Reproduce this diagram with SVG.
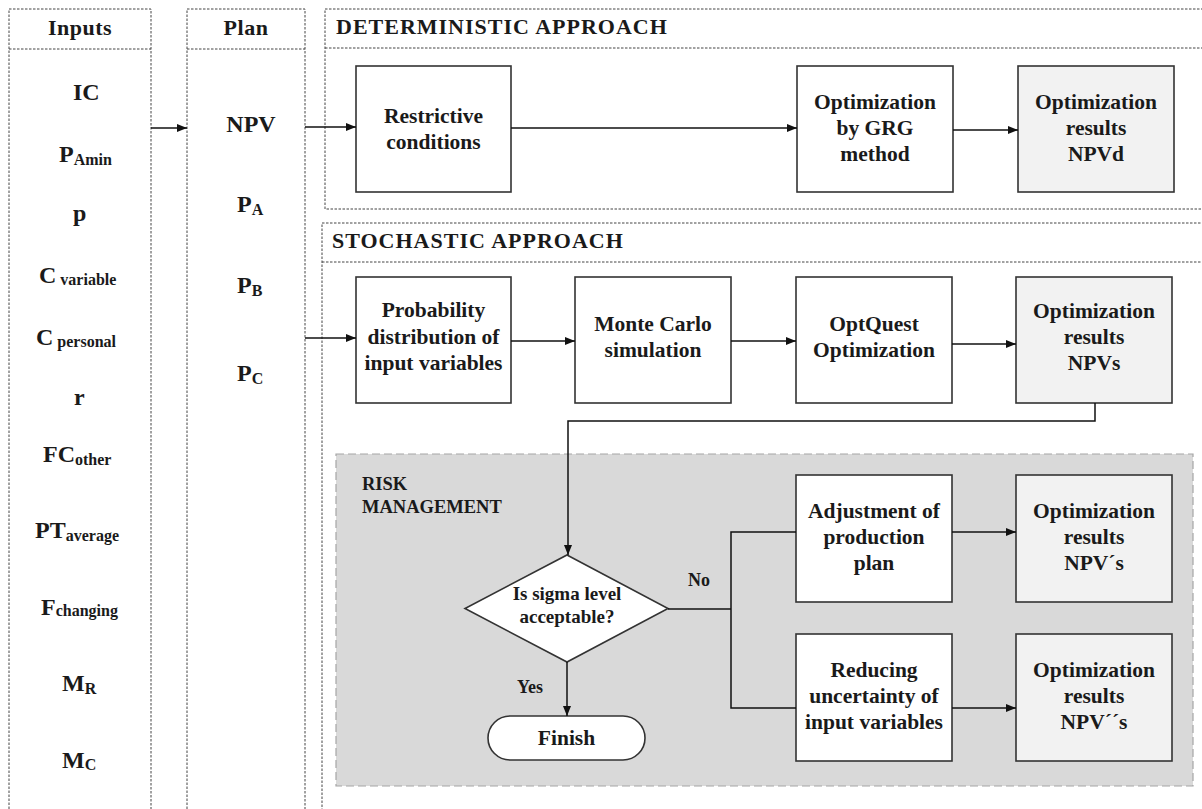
<svg xmlns="http://www.w3.org/2000/svg" width="1202" height="809" viewBox="0 0 1202 809" font-family="'Liberation Serif', 'DejaVu Serif', serif">
<defs>
<marker id="ah" markerWidth="10" markerHeight="8" refX="10" refY="4" orient="auto" markerUnits="userSpaceOnUse">
<path d="M0,0 L10,4 L0,8 z" fill="#111"/>
</marker>
<style>
.panel{fill:none;stroke:#444;stroke-width:1;stroke-dasharray:2.5,1.5}
.box{fill:#fff;stroke:#333;stroke-width:1.6}
.res{fill:#f2f2f2;stroke:#333;stroke-width:1.6}
.t{font-family:'Liberation Serif','DejaVu Serif',serif;font-weight:bold;fill:#1a1a1a}
.bt{font-size:21.5px;text-anchor:middle}
.v{font-size:24px}
.s{font-size:16px}
.hd{font-size:22px;letter-spacing:1px}
.c{fill:none;stroke:#111;stroke-width:1.5}
.ca{fill:none;stroke:#111;stroke-width:1.5;marker-end:url(#ah)}
</style>
</defs>
<rect width="1202" height="809" fill="#fff"/>

<g id="inputs-panel">
<rect class="panel" x="9" y="9" width="142" height="820"/>
<line class="panel" x1="9" y1="49" x2="151" y2="49"/>
<text class="t hd" x="80" y="35" text-anchor="middle" style="letter-spacing:0.5px">Inputs</text>
<text class="t v" x="73" y="100">IC</text>
<text class="t v" x="59" y="162">P<tspan class="s" dy="3">Amin</tspan></text>
<text class="t v" x="73" y="221">p</text>
<text class="t v" x="39" y="283">C<tspan class="s" dy="2"> variable</tspan></text>
<text class="t v" x="36" y="345">C<tspan class="s" dy="2"> personal</tspan></text>
<text class="t v" x="74" y="405">r</text>
<text class="t v" x="43" y="462">FC<tspan class="s" dy="3">other</tspan></text>
<text class="t v" x="35" y="538">PT<tspan class="s" dy="3">average</tspan></text>
<text class="t v" x="41" y="615">F<tspan class="s" dy="1">changing</tspan></text>
<text class="t v" x="62" y="691">M<tspan class="s" dy="3">R</tspan></text>
<text class="t v" x="62" y="768">M<tspan class="s" dy="2">C</tspan></text>
</g>

<g id="plan-panel">
<rect class="panel" x="187" y="9" width="118" height="820"/>
<line class="panel" x1="187" y1="49" x2="305" y2="49"/>
<text class="t hd" x="246" y="35" text-anchor="middle" style="letter-spacing:0.5px">Plan</text>
<text class="t v" x="251" y="132" text-anchor="middle">NPV</text>
<text class="t v" x="237" y="212">P<tspan class="s" dy="3">A</tspan></text>
<text class="t v" x="237" y="293">P<tspan class="s" dy="3">B</tspan></text>
<text class="t v" x="237" y="381">P<tspan class="s" dy="3">C</tspan></text>
</g>

<g id="deterministic-panel">
<rect class="panel" x="325" y="9" width="900" height="200"/>
<line class="panel" x1="325" y1="48" x2="1202" y2="48"/>
<text class="t hd" x="336" y="34">DETERMINISTIC APPROACH</text>
</g>

<g id="stochastic-panel">
<rect class="panel" x="322" y="223" width="900" height="620"/>
<line class="panel" x1="322" y1="262" x2="1202" y2="262"/>
<text class="t hd" x="332" y="248">STOCHASTIC APPROACH</text>
</g>

<g id="risk-management">
<rect x="336" y="454" width="857" height="332" fill="#d9d9d9" stroke="#a6a6a6" stroke-width="1.2" stroke-dasharray="8,4"/>
<text class="t" x="362" y="490" style="font-size:18.5px">RISK</text>
<text class="t" x="362" y="513" style="font-size:18.5px">MANAGEMENT</text>
</g>

<g id="restrictive">
<rect class="box" x="356" y="66" width="155" height="126"/>
<text class="t bt" x="433.5" y="123">Restrictive</text>
<text class="t bt" x="433.5" y="149">conditions</text>
</g>
<g id="grg">
<rect class="box" x="797" y="66" width="156" height="126"/>
<text class="t bt" x="875" y="109">Optimization</text>
<text class="t bt" x="875" y="135">by GRG</text>
<text class="t bt" x="875" y="161">method</text>
</g>
<g id="npvd">
<rect class="res" x="1018" y="66" width="156" height="126"/>
<text class="t bt" x="1096" y="109">Optimization</text>
<text class="t bt" x="1096" y="135">results</text>
<text class="t bt" x="1096" y="161">NPVd</text>
</g>

<g id="probability">
<rect class="box" x="356" y="277" width="155" height="126"/>
<text class="t bt" x="433.5" y="317">Probability</text>
<text class="t bt" x="433.5" y="344">distribution of</text>
<text class="t bt" x="433.5" y="370">input variables</text>
</g>
<g id="montecarlo">
<rect class="box" x="575" y="277" width="156" height="126"/>
<text class="t bt" x="653" y="331">Monte Carlo</text>
<text class="t bt" x="653" y="357">simulation</text>
</g>
<g id="optquest">
<rect class="box" x="796" y="277" width="156" height="126"/>
<text class="t bt" x="874" y="331">OptQuest</text>
<text class="t bt" x="874" y="357">Optimization</text>
</g>
<g id="npvs">
<rect class="res" x="1016" y="277" width="156" height="126"/>
<text class="t bt" x="1094" y="318">Optimization</text>
<text class="t bt" x="1094" y="344">results</text>
<text class="t bt" x="1094" y="370">NPVs</text>
</g>

<g id="decision">
<polygon points="567,555 668,608.5 567,662 465,608.5" fill="#fff" stroke="#333" stroke-width="1.6"/>
<text class="t" x="567" y="600" text-anchor="middle" style="font-size:19px">Is sigma level</text>
<text class="t" x="567" y="623" text-anchor="middle" style="font-size:19px">acceptable?</text>
</g>
<g id="finish">
<rect x="488" y="716" width="157" height="44" rx="22" fill="#fff" stroke="#333" stroke-width="1.6"/>
<text class="t bt" x="566.5" y="745">Finish</text>
</g>

<g id="adjustment">
<rect class="box" x="796" y="475" width="156" height="127"/>
<text class="t bt" x="874" y="518">Adjustment of</text>
<text class="t bt" x="874" y="544">production</text>
<text class="t bt" x="874" y="570">plan</text>
</g>
<g id="npv1">
<rect class="res" x="1016" y="475" width="156" height="127"/>
<text class="t bt" x="1094" y="518">Optimization</text>
<text class="t bt" x="1094" y="544">results</text>
<text class="t bt" x="1094" y="570">NPV´s</text>
</g>
<g id="reducing">
<rect class="box" x="796" y="634" width="156" height="127"/>
<text class="t bt" x="874" y="677">Reducing</text>
<text class="t bt" x="874" y="703">uncertainty of</text>
<text class="t bt" x="874" y="729">input variables</text>
</g>
<g id="npv2">
<rect class="res" x="1016" y="634" width="156" height="127"/>
<text class="t bt" x="1094" y="677">Optimization</text>
<text class="t bt" x="1094" y="703">results</text>
<text class="t bt" x="1094" y="729">NPV´´s</text>
</g>

<g id="connectors">
<line class="ca" x1="151" y1="128" x2="187" y2="128"/>
<line class="ca" x1="305" y1="127" x2="356" y2="127"/>
<line class="ca" x1="511" y1="128" x2="797" y2="128"/>
<line class="ca" x1="953" y1="130" x2="1018" y2="130"/>
<line class="ca" x1="305" y1="338" x2="356" y2="338"/>
<line class="ca" x1="511" y1="341" x2="575" y2="341"/>
<line class="ca" x1="731" y1="341" x2="796" y2="341"/>
<line class="ca" x1="952" y1="344" x2="1016" y2="344"/>
<polyline class="ca" points="1095,403 1095,421 568,421 568,555"/>
<line class="ca" x1="567" y1="662" x2="567" y2="716"/>
<polyline class="c" points="668,609 731,609"/>
<polyline class="c" points="796,532 731,532 731,708 796,708"/>
<line class="ca" x1="952" y1="532" x2="1016" y2="532"/>
<line class="ca" x1="952" y1="708" x2="1016" y2="708"/>
<text class="t" x="688" y="586" style="font-size:18px">No</text>
<text class="t" x="517" y="693" style="font-size:18px">Yes</text>
</g>
</svg>
